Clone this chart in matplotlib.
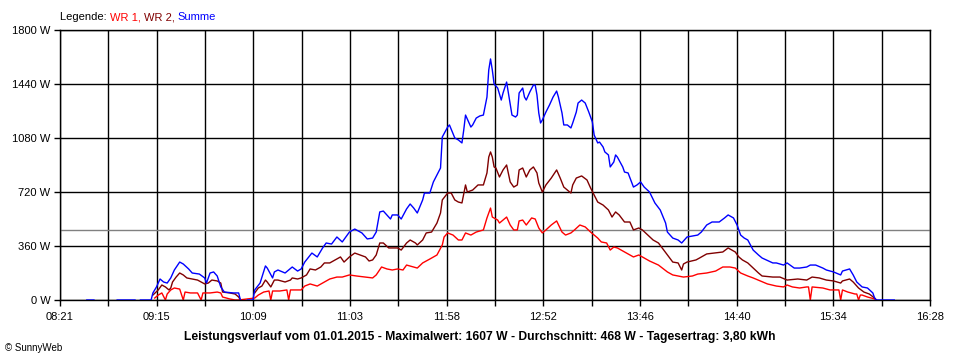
import numpy as np
import matplotlib.pyplot as plt
from matplotlib.offsetbox import TextArea, HPacker, AnchoredOffsetbox

plt.rcParams['font.family'] = ['Liberation Sans', 'DejaVu Sans']

# Summe (blue), None = gap in the line
sum_t = ['08:36', '08:40', '08:45', '08:53', '09:03', '09:04', '09:06', '09:12',
         '09:13', '09:15', '09:17', '09:19', '09:21', '09:23', '09:25', '09:28', '09:30', '09:33',
         '09:35', '09:39', '09:42', '09:43', '09:45', '09:47', '09:49', '09:51', '09:53', '09:58',
         '10:01', '10:02', '10:04', '10:06', '10:09',
         '10:10', '10:13', '10:16', '10:17', '10:20', '10:21', '10:23', '10:27', '10:31', '10:34',
         '10:36', '10:38', '10:42', '10:45', '10:48', '10:50', '10:53', '10:56', '10:59', '11:03',
         '11:06', '11:10', '11:13', '11:16', '11:18', '11:20', '11:22', '11:24', '11:26', '11:27',
         '11:30', '11:32', '11:35', '11:37', '11:39', '11:41', '11:44', '11:45', '11:48', '11:50',
         '11:54', '11:55', '11:58', '11:59', '12:02', '12:04', '12:06', '12:07', '12:08', '12:11',
         '12:12', '12:14', '12:16', '12:18', '12:20', '12:21', '12:22', '12:23', '12:24', '12:26',
         '12:28', '12:29', '12:31', '12:32', '12:34', '12:36', '12:37', '12:38', '12:40', '12:41',
         '12:42', '12:44', '12:46', '12:47', '12:48', '12:49', '12:50', '12:51', '12:53', '12:55',
         '12:57', '12:59', '13:00', '13:02', '13:03', '13:05', '13:07', '13:08', '13:10', '13:11',
         '13:13', '13:15', '13:17', '13:19', '13:20', '13:22', '13:23', '13:25', '13:26', '13:28',
         '13:29', '13:31', '13:32', '13:33', '13:36', '13:37', '13:39', '13:42', '13:44', '13:46',
         '13:48', '13:51', '13:54', '13:57', '14:00', '14:01', '14:04', '14:07', '14:09', '14:12',
         '14:18', '14:20', '14:23', '14:26', '14:30', '14:33', '14:35', '14:38', '14:40', '14:42',
         '14:44', '14:46', '14:49', '14:52', '14:54', '15:00', '15:02', '15:06', '15:08', '15:12',
         '15:15', '15:19', '15:21', '15:24', '15:28', '15:30', '15:34', '15:38', '15:39', '15:43',
         '15:45', '15:47', '15:50', '15:53', '15:56', '15:57', '15:58', '16:08']
sum_w = [0, 0, None, 0, 0, None, 0, 0,
         47, 87, 140, 120, 113, 147, 200, 253, 240, 207,
         180, 173, 147, 113, 180, 187, 160, 87, 53, 47,
         47, 0, None, 0, 0,
         67, 113, 227, 213, 147, 187, 200, 180, 220, 193,
         207, 253, 313, 287, 347, 380, 373, 420, 387, 453,
         473, 447, 407, 413, 453, 587, 593, 567, 540, 567,
         567, 540, 607, 640, 613, 580, 667, 713, 713, 787,
         880, 1087, 1153, 1167, 1080, 1067, 1047, 1133, 1233, 1153,
         1167, 1213, 1227, 1233, 1353, 1533, 1607, 1533, 1440, 1413,
         1333, 1380, 1453, 1380, 1233, 1220, 1233, 1380, 1413, 1353,
         1333, 1387, 1433, 1433, 1367, 1247, 1180, 1200, 1253, 1300,
         1353, 1393, 1353, 1247, 1167, 1167, 1147, 1180, 1253, 1313,
         1333, 1313, 1253, 1187, 1100, 1047, 1053, 1020, 987, 967,
         887, 920, 967, 953, 887, 853, 847, 753, 767, 787,
         753, 720, 647, 600, 513, 453, 413, 400, 380, 420,
         433, 453, 500, 520, 520, 547, 567, 547, 500, 433,
         413, 400, 333, 300, 280, 247, 247, 233, 247, 213,
         213, 220, 233, 233, 213, 200, 187, 167, 193, 207,
         167, 120, 87, 80, 47, 13, 0, 0]

# WR 2 (dark red)
wr2_t = ['09:13', '09:16', '09:18', '09:20', '09:22', '09:23', '09:24', '09:26', '09:28', '09:30',
         '09:32', '09:35', '09:38', '09:40', '09:42', '09:44', '09:46', '09:49', '09:51', '09:52',
         '09:56', '09:59', '10:01', '10:02', '10:04',
         '10:10', '10:12', '10:14', '10:16', '10:17', '10:19', '10:21', '10:23', '10:27', '10:30',
         '10:31', '10:34', '10:36', '10:39', '10:41', '10:44', '10:47', '10:49', '10:52', '10:55',
         '10:58', '11:00', '11:03', '11:06', '11:09', '11:12', '11:14', '11:16', '11:18', '11:20',
         '11:22', '11:25', '11:27', '11:30', '11:32', '11:35', '11:37', '11:40', '11:41', '11:44',
         '11:46', '11:49', '11:52', '11:54', '11:55', '11:58', '12:00', '12:02', '12:04', '12:06',
         '12:08', '12:09', '12:12', '12:15', '12:18', '12:20', '12:21', '12:22', '12:23', '12:24',
         '12:25', '12:27', '12:29', '12:31', '12:33', '12:35', '12:37', '12:38', '12:40', '12:42',
         '12:44', '12:46', '12:48', '12:49', '12:51', '12:53', '12:56', '12:59', '13:01', '13:03',
         '13:05', '13:07', '13:08', '13:10', '13:13', '13:16', '13:18', '13:20', '13:22', '13:25',
         '13:28', '13:30', '13:32', '13:34', '13:37', '13:40', '13:42', '13:45', '13:47', '13:50',
         '13:53', '13:56', '14:01', '14:04', '14:07', '14:09', '14:10', '14:12', '14:17', '14:19',
         '14:23', '14:27', '14:32', '14:35', '14:39', '14:41', '14:43', '14:46', '14:49', '14:52',
         '14:54', '15:00', '15:04', '15:08', '15:14', '15:19', '15:22', '15:26', '15:30', '15:34',
         '15:38', '15:39', '15:43', '15:45', '15:48', '15:51', '15:54', '15:57', '15:58']
wr2_w = [33, 67, 100, 87, 67, 80, 120, 153, 180, 167,
         147, 140, 133, 120, 107, 113, 133, 127, 113, 53,
         47, 40, 20, 0, None,
         47, 80, 93, 133, 120, 87, 133, 133, 120, 133,
         147, 140, 147, 167, 207, 200, 220, 247, 247, 267,
         287, 253, 287, 313, 300, 287, 260, 267, 300, 380,
         380, 347, 347, 347, 333, 380, 400, 380, 367, 400,
         447, 453, 513, 580, 667, 713, 713, 667, 653, 647,
         767, 720, 733, 767, 767, 847, 953, 987, 953, 887,
         880, 820, 867, 900, 787, 753, 767, 867, 880, 820,
         867, 887, 847, 780, 720, 767, 813, 867, 813, 753,
         733, 713, 767, 813, 827, 800, 747, 700, 653, 633,
         600, 553, 587, 567, 520, 520, 467, 480, 467, 433,
         400, 380, 300, 253, 247, 200, 240, 253, 267, 280,
         307, 313, 320, 347, 320, 287, 267, 247, 213, 180,
         160, 153, 153, 133, 140, 133, 153, 147, 133, 127,
         113, 127, 140, 120, 80, 53, 40, 13, 0]

# WR 1 (red), the drops to 0 are short outages
wr1_t = ['09:14', '09:16', '09:18', '09:20', '09:21', '09:23', '09:25', '09:28', '09:30', '09:31',
         '09:34', '09:38', '09:40', '09:41', '09:45', '09:49', '09:51', '09:52', '09:56', '09:59',
         '10:01',
         '10:10', '10:12', '10:15', '10:18', '10:19', '10:20', '10:24', '10:28', '10:29', '10:30',
         '10:31', '10:36', '10:38', '10:41', '10:45', '10:48', '10:52', '10:56', '10:59', '11:03',
         '11:07', '11:12', '11:16', '11:18', '11:21', '11:24', '11:27', '11:30', '11:33', '11:35',
         '11:39', '11:41', '11:44', '11:48', '11:52', '11:55', '11:56', '11:58', '12:01', '12:04',
         '12:06', '12:08', '12:11', '12:14', '12:18', '12:20', '12:22', '12:23', '12:26', '12:27',
         '12:29', '12:31', '12:33', '12:35', '12:37', '12:38', '12:40', '12:42', '12:45', '12:47',
         '12:49', '12:51', '12:53', '12:56', '12:59', '13:02', '13:04', '13:07', '13:09', '13:12',
         '13:15', '13:18', '13:20', '13:22', '13:24', '13:27', '13:29', '13:31', '13:33', '13:36',
         '13:39', '13:42', '13:45', '13:47', '13:51', '13:56', '14:01', '14:04', '14:10', '14:15',
         '14:18', '14:23', '14:28', '14:32', '14:36', '14:39', '14:42', '14:46', '14:49', '14:53',
         '14:57', '15:02', '15:06', '15:08', '15:11', '15:15', '15:19', '15:20', '15:21', '15:22',
         '15:28', '15:32', '15:37', '15:38', '15:39', '15:42', '15:46', '15:47', '15:48', '15:49',
         '15:50', '15:53', '15:57', '15:58']
wr1_w = [13, 33, 47, 0, 40, 67, 80, 73, 0, 53,
         47, 47, 0, 47, 47, 53, 47, 20, 7, 0,
         0,
         13, 33, 53, 60, 0, 60, 60, 67, 0, 67,
         67, 67, 93, 107, 93, 113, 140, 153, 153, 167,
         160, 153, 147, 167, 220, 207, 200, 207, 200, 233,
         220, 213, 247, 273, 300, 367, 420, 447, 433, 400,
         400, 447, 433, 453, 467, 547, 613, 553, 533, 513,
         533, 553, 500, 467, 467, 527, 533, 500, 547, 540,
         480, 447, 467, 500, 527, 453, 433, 447, 467, 500,
         487, 453, 433, 413, 387, 380, 333, 353, 347, 327,
         307, 287, 300, 287, 260, 233, 187, 167, 153, 160,
         173, 180, 193, 220, 220, 213, 180, 160, 147, 127,
         107, 93, 87, 100, 87, 80, 87, 87, 0, 87,
         80, 67, 67, 0, 67, 53, 40, 40, 0, 33,
         33, 20, 7, 0]

avg_w = 468
y_ticks = [0, 360, 720, 1080, 1440, 1800]
x_labels = ['08:21', '09:15', '10:09', '11:03', '11:58', '12:52', '13:46', '14:40', '15:34', '16:28']
x_start, x_end = '08:21', '16:28'
title = ('Leistungsverlauf vom 01.01.2015 - Maximalwert: 1607 W - '
         'Durchschnitt: 468 W - Tagesertrag: 3,80 kWh')


def to_min(s):
    h, m = s.split(':')
    return int(h) * 60 + int(m)


def series(times, watts):
    x = np.array([to_min(t) for t in times], dtype=float)
    y = np.array([np.nan if w is None else w for w in watts], dtype=float)
    return x, y


fig = plt.figure(figsize=(9.6, 3.6), dpi=100)
ax = fig.add_axes([60/960, 60/360, 870/960, 270/360])

x0, x1 = to_min(x_start), to_min(x_end)
major = np.linspace(x0, x1, len(x_labels))
minor = np.linspace(x0, x1, 2 * len(x_labels) - 1)

# grid: every tick gets a line, plus the average line
for x in minor:
    ax.axvline(x, color='black', lw=1.0, zorder=1)
for y in y_ticks:
    ax.axhline(y, color='black', lw=1.0, zorder=1)
ax.axhline(avg_w, color='#808080', lw=1.0, zorder=1.5)

x, y = series(wr1_t, wr1_w)
ax.plot(x, y, color='#ff0000', lw=1.0, zorder=2)
x, y = series(wr2_t, wr2_w)
ax.plot(x, y, color='#800000', lw=1.0, zorder=3)
x, y = series(sum_t, sum_w)
ax.plot(x, y, color='#0000ff', lw=1.0, zorder=4)

ax.set_xlim(x0, x1)
ax.set_ylim(0, 1800)
ax.set_xticks(major)
ax.set_xticklabels(x_labels)
ax.set_xticks(minor, minor=True)
ax.set_yticks(y_ticks)
ax.set_yticklabels([f'{v} W' for v in y_ticks])
ax.tick_params(which='both', direction='out', length=4, width=1, color='black',
               labelsize=8, pad=3)
ax.tick_params(axis='x', pad=5)
for s in ax.spines.values():
    s.set_linewidth(1.0)

fig.text(480/960, 1 - 337/360, title, ha='center', va='center',
         fontsize=8.7, fontweight='bold')
fig.text(5/960, 1 - 348/360, '\u00a9 SunnyWeb', ha='left', va='center', fontsize=7)

parts = [('Legende: ', 'black'), ('WR 1, ', '#ff0000'), ('WR 2, ', '#800000'), ('Summe', '#0000ff')]
boxes = [TextArea(t, textprops=dict(color=c, fontsize=8)) for t, c in parts]
pack = HPacker(children=boxes, align='baseline', pad=0, sep=0)
anch = AnchoredOffsetbox(loc='lower left', child=pack, pad=0, borderpad=0, frameon=False,
                         bbox_to_anchor=(60/960, 1 - 22/360), bbox_transform=fig.transFigure)
fig.add_artist(anch)

fig.savefig('out.png', dpi=100)
